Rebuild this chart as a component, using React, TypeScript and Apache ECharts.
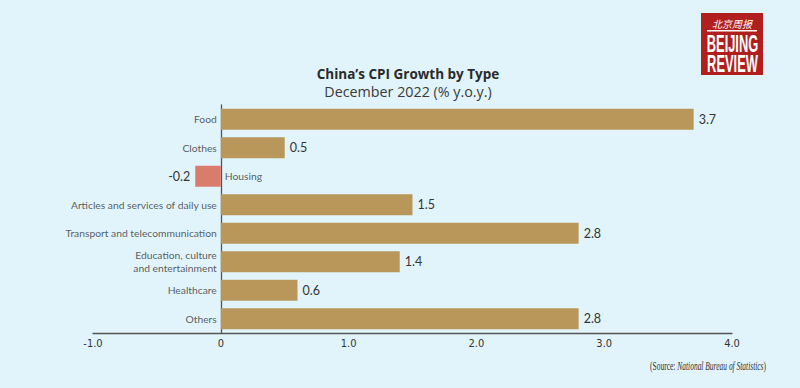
import React, { useEffect, useRef } from "react";
import * as echarts from "echarts";

const categories = [
  "Food",
  "Clothes",
  "Housing",
  "Articles and services of daily use",
  "Transport and telecommunication",
  "Education, culture\nand entertainment",
  "Healthcare",
  "Others",
];
const values = [3.7, 0.5, -0.2, 1.5, 2.8, 1.4, 0.6, 2.8];
const xTicks = [-1, 0, 1, 2, 3, 4];

const BG = "#E1F4FB";
const POS = "#B9975B";
const NEG = "#DA7C6C";
const TEXT = "#333333";

export default function App() {
  const ref = useRef<HTMLDivElement>(null);
  useEffect(() => {
    document.body.style.margin = "0";
    if (!ref.current) return;
    const chart = echarts.init(ref.current, undefined, { renderer: "svg" });
    const labelFont = "Lato, 'Open Sans', sans-serif";
    chart.setOption({
      animation: false,
      backgroundColor: BG,
      title: {
        text: "China\u2019s CPI Growth by Type",
        subtext: "December 2022 (% y.o.y.)",
        left: 408,
        textAlign: "center",
        top: 66,
        padding: 0,
        itemGap: 1,
        textStyle: { fontFamily: "'Open Sans', sans-serif", fontSize: 13.5, lineHeight: 16, fontWeight: "bold", color: "#2a2a2a" },
        subtextStyle: { fontFamily: "'Open Sans', sans-serif", fontSize: 14.3, lineHeight: 16, color: "#3a3a3a" },
      },
      grid: { left: 93, right: 68, top: 105, bottom: 55, containLabel: false },
      xAxis: {
        type: "value",
        min: -1,
        max: 4,
        interval: 1,
        splitLine: { show: false },
        axisTick: { show: false },
        axisLine: { show: true, lineStyle: { color: "#555", width: 1.3 } },
        axisLabel: {
          margin: 5,
          fontSize: 11,
          color: TEXT,
          fontFamily: "'Liberation Sans Narrow', 'DejaVu Sans Condensed', sans-serif",
          customValues: xTicks,
          formatter: (v: number) => (v === 0 ? "0" : v.toFixed(1)),
        },
      },
      yAxis: {
        type: "category",
        inverse: true,
        data: categories,
        axisTick: { show: false },
        axisLabel: { show: false },
        axisLine: { show: true, onZero: true, lineStyle: { color: "#555", width: 1.3 } },
      },
      series: [
        {
          type: "bar",
          barWidth: 21,
          z: 2,
          data: values.map((v) => ({
            value: v,
            itemStyle: { color: v >= 0 ? POS : NEG },
            label: { position: v >= 0 ? "right" : "left" },
          })),
          label: {
            show: true,
            distance: 5,
            fontSize: 12.5,
            color: TEXT,
            fontFamily: labelFont,
            formatter: (p: any) => Number(p.value).toFixed(1),
          },
        },
        {
          type: "scatter",
          symbolSize: 0,
          z: 3,
          silent: true,
          data: categories.map((c, i) => ({
            value: [0, c],
            label: { position: values[i] >= 0 ? "left" : "right" },
          })),
          label: {
            show: true,
            distance: 4,
            fontSize: 10.3,
            lineHeight: 13,
            color: TEXT,
            fontFamily: labelFont,
            formatter: (p: any) => p.value[1],
          },
        },
      ],
      graphic: [
        {
          type: "text",
          x: 766,
          y: 366,
          scaleX: 0.65,
          style: {
            text: "{n|(Source: }{i|National Bureau of Statistics}{n|)}",
            align: "right",
            verticalAlign: "middle",
            rich: {
              n: { fontFamily: "'Liberation Serif', serif", fontSize: 11.5, fill: "#333" },
              i: { fontFamily: "'Liberation Serif', serif", fontSize: 11.5, fontStyle: "italic", fill: "#333" },
            },
          },
        },
        {
          type: "group",
          children: [
            { type: "rect", shape: { x: 701, y: 13, width: 62, height: 62 }, style: { fill: "#B01F1D" } },
            {
              type: "text",
              x: 732,
              y: 23.5,
              style: {
                text: "北京周报",
                align: "center",
                verticalAlign: "middle",
                fill: "#fff",
                fontFamily: "'Noto Sans CJK SC', sans-serif",
                fontSize: 10,
                fontStyle: "italic",
                letterSpacing: 3.5,
              },
            },
            { type: "rect", shape: { x: 707, y: 30, width: 50, height: 1.5 }, style: { fill: "#fff" } },
            {
              type: "text",
              x: 732.5,
              y: 44,
              scaleX: 0.56,
              style: {
                text: "BEIJING",
                align: "center",
                verticalAlign: "middle",
                fill: "#fff",
                fontFamily: "'Liberation Sans', sans-serif",
                fontWeight: "bold",
                fontSize: 23,
              },
            },
            {
              type: "text",
              x: 732.5,
              y: 63.5,
              scaleX: 0.56,
              style: {
                text: "REVIEW",
                align: "center",
                verticalAlign: "middle",
                fill: "#fff",
                fontFamily: "'Liberation Sans', sans-serif",
                fontWeight: "bold",
                fontSize: 23,
              },
            },
          ],
        },
      ],
    });
    return () => chart.dispose();
  }, []);
  return <div ref={ref} style={{ width: 800, height: 388, position: "fixed", left: 0, top: 0 }} />;
}
